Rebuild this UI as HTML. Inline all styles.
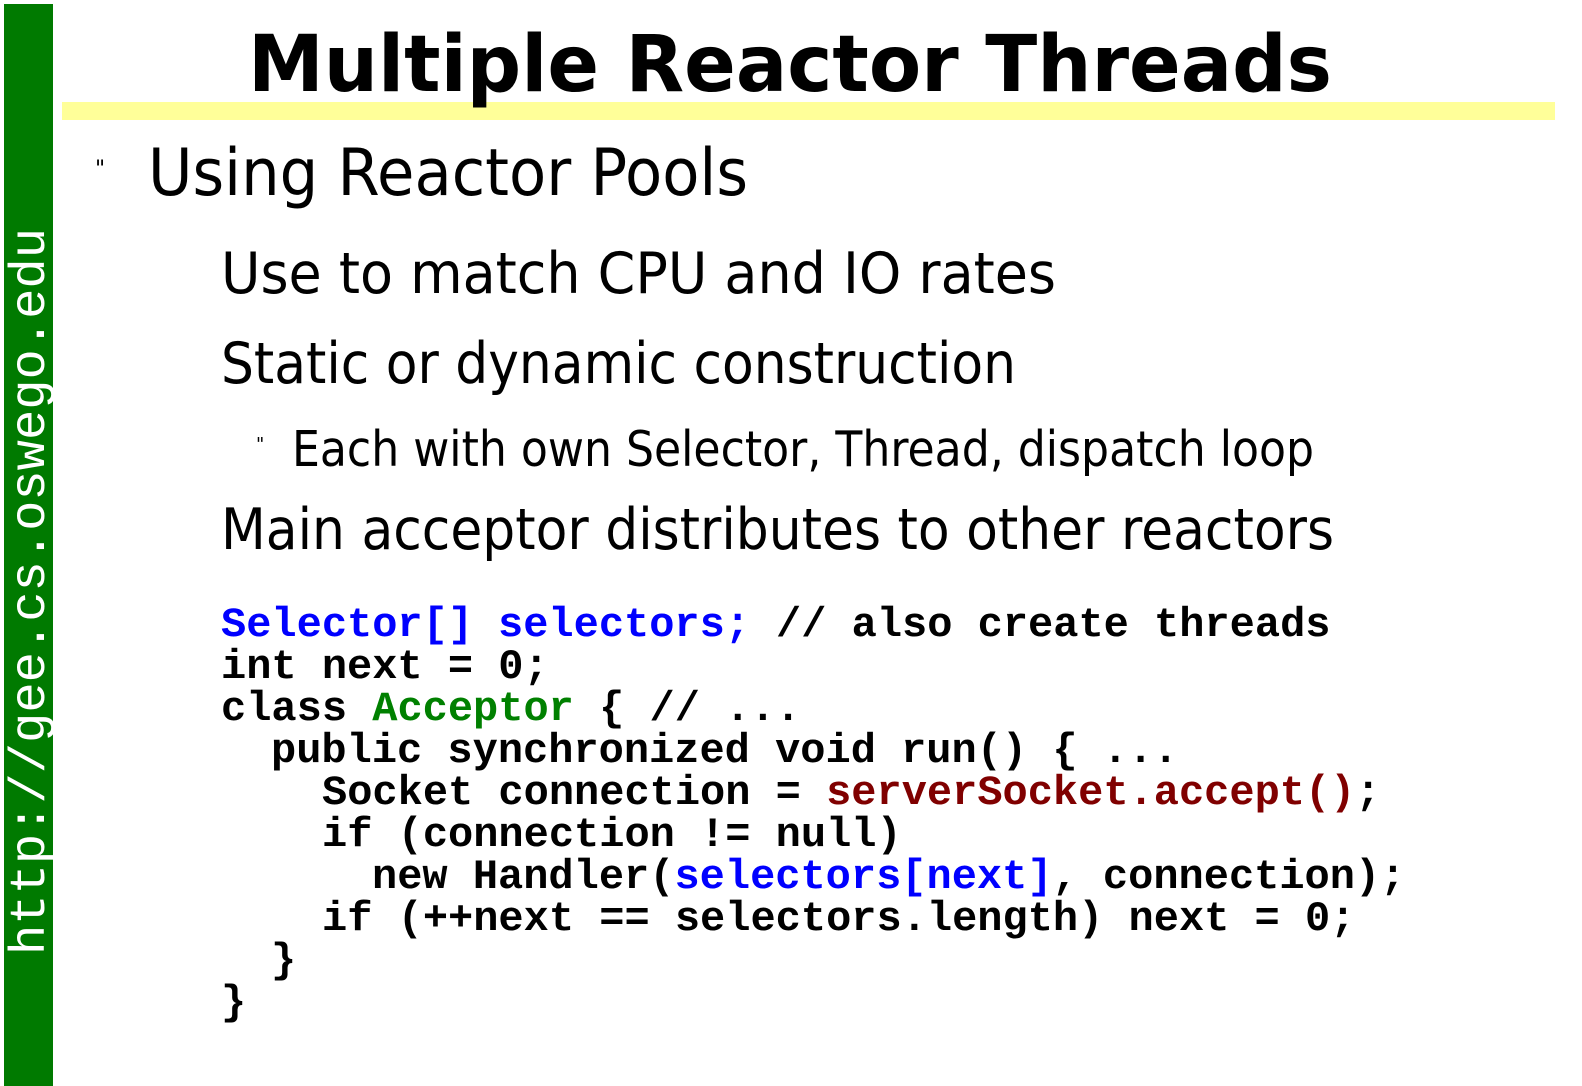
<!DOCTYPE html>
<html><head><meta charset="utf-8"><style>
html,body{margin:0;padding:0;background:#fff;width:1582px;height:1086px;overflow:hidden;}
svg{display:block}
.m{font-family:"Liberation Mono",monospace;}
.s{font-family:"DejaVu Sans",sans-serif;}
</style></head><body>
<svg width="1582" height="1086" viewBox="0 0 1582 1086" xmlns="http://www.w3.org/2000/svg">
<rect x="4" y="4" width="49" height="1082" fill="#007a00"/>
<text class="m" transform="translate(44,955) rotate(-90)" font-size="50" fill="#fff" textLength="727" lengthAdjust="spacingAndGlyphs">http://gee.cs.oswego.edu</text>
<rect x="62" y="102" width="1493" height="18" fill="#ffff99"/>
<text class="s" x="248" y="91" font-weight="bold" font-size="78" fill="#000" textLength="1084" lengthAdjust="spacingAndGlyphs">Multiple Reactor Threads</text>
<g class="s" fill="#000">
<text x="95" y="176" font-size="22">"</text>
<text x="148" y="195" font-size="65" textLength="600" lengthAdjust="spacingAndGlyphs">Using Reactor Pools</text>
<text x="221" y="293" font-size="57" textLength="835" lengthAdjust="spacingAndGlyphs">Use to match CPU and IO rates</text>
<text x="221" y="383" font-size="57" textLength="795" lengthAdjust="spacingAndGlyphs">Static or dynamic construction</text>
<text x="256" y="450" font-size="18">"</text>
<text x="292" y="466" font-size="49" textLength="1022" lengthAdjust="spacingAndGlyphs">Each with own Selector, Thread, dispatch loop</text>
<text x="221" y="549" font-size="57" textLength="1113" lengthAdjust="spacingAndGlyphs">Main acceptor distributes to other reactors</text>
</g>
<g class="m" font-weight="bold" font-size="42" fill="#000">
<text x="221" y="636"><tspan fill="#0000ff">Selector[]</tspan></text>
<text x="498" y="636"><tspan fill="#0000ff">selectors;</tspan></text>
<text x="776" y="636">// also create threads</text>
<text x="221" y="678">int next = 0;</text>
<text x="221" y="720">class <tspan fill="#008000">Acceptor</tspan> { // ...</text>
<text x="271" y="762">public synchronized void run() { ...</text>
<text x="322" y="804">Socket connection = <tspan fill="#800000">serverSocket.accept()</tspan>;</text>
<text x="322" y="846">if (connection != null)</text>
<text x="372" y="888">new Handler(<tspan fill="#0000ff">selectors[next]</tspan>, connection);</text>
<text x="322" y="930">if (++next == selectors.length) next = 0;</text>
<text x="271" y="972">}</text>
<text x="221" y="1014">}</text>
</g>
</svg>
</body></html>
